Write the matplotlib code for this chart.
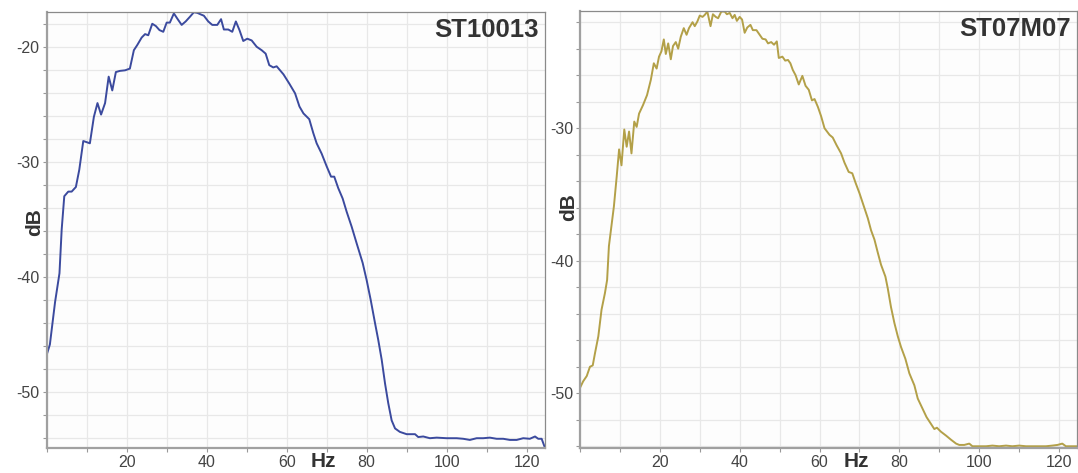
import matplotlib.pyplot as plt
from matplotlib.ticker import MultipleLocator

plt.rcParams["font.family"] = ["Liberation Sans", "DejaVu Sans"]
plt.rcParams["axes.unicode_minus"] = False

# spectrum of station ST10013
hz_a = [0, 0.8, 2.1, 3.2, 3.75, 4.4, 5.4, 6.25, 7.3, 8.15, 9.15, 10, 10.8, 11.8,
        12.7, 13.6, 14.6, 15.5, 16.4, 17.3, 18.3, 19.6, 20.8, 21.8, 22.65, 23.75,
        24.6, 25.4, 26.4, 27.3, 28.2, 29.15, 30, 30.8, 31.8, 32.75, 33.75, 34.75,
        35.8, 36.8, 37.65, 38.6, 39.3, 40.4, 41.4, 42.65, 43.6, 44.3, 45.4, 46.4,
        47.3, 48.2, 49.15, 50.15, 51.25, 52.5, 53.75, 54.75, 55.65, 56.65, 57.5,
        59.2, 60.65, 62.1, 63.2, 64.2, 65.65, 66.65, 67.5, 68.75, 70, 71.1, 71.9,
        72.9, 74, 75, 76.25, 77.5, 79, 80, 81, 82.1, 82.9, 83.75, 84.6, 85.4,
        86.25, 87.1, 88.3, 90, 92.1, 92.9, 94.15, 95.8, 97.5, 100, 102.5, 104.15,
        105.8, 107.5, 109.15, 110.8, 112.5, 114.15, 115.8, 117.5, 119.15, 120.8,
        122.1, 122.9, 123.75, 124.6]
db_a = [-46.8, -45.9, -42.2, -39.7, -35.9, -33.0, -32.6, -32.6, -32.2, -30.7,
        -28.2, -28.3, -28.4, -26.1, -24.9, -25.9, -24.9, -22.6, -23.8, -22.2,
        -22.1, -22.05, -21.9, -20.3, -19.85, -19.2, -18.9, -19.0, -18.0, -18.2,
        -18.55, -18.7, -17.9, -17.9, -17.1, -17.6, -18.1, -17.8, -17.4, -17.0,
        -17.05, -17.2, -17.3, -17.8, -18.1, -18.1, -17.6, -18.5, -18.5, -18.7,
        -17.8, -18.55, -19.5, -19.3, -19.45, -20.0, -20.3, -20.6, -21.6, -21.8,
        -21.7, -22.4, -23.2, -24.05, -25.2, -25.8, -26.3, -27.5, -28.4, -29.3,
        -30.4, -31.3, -31.3, -32.3, -33.2, -34.35, -35.65, -37.1, -38.8, -40.3,
        -42.0, -44.05, -45.5, -47.2, -49.3, -51.0, -52.5, -53.2, -53.5, -53.7,
        -53.7, -53.95, -53.9, -54.05, -54.0, -54.05, -54.05, -54.1, -54.2,
        -54.05, -54.05, -54.0, -54.1, -54.1, -54.2, -54.2, -54.05, -54.1, -53.9,
        -54.1, -54.1, -54.9]

# spectrum of station ST07M07
hz_b = [0, 0.8, 1.7, 2.5, 3.2, 3.75, 4.6, 5.4, 6.25, 6.8, 7.25, 7.75, 8.5, 9.2,
        9.8, 10.4, 11.1, 11.7, 12.3, 12.9, 13.6, 14.2, 14.8, 15.8, 16.8, 17.75,
        18.5, 19.2, 19.8, 20.4, 21, 21.5, 22.1, 22.75, 23.3, 24, 24.6, 25.25, 26,
        26.7, 27.3, 28.2, 28.75, 29.4, 30, 30.7, 31.25, 31.9, 32.7, 33.3, 34,
        34.6, 35.4, 36.25, 36.8, 37.5, 38.2, 38.75, 39.3, 40, 40.6, 41.25, 41.9,
        42.7, 43.3, 44.2, 45, 45.7, 46.5, 47.1, 47.9, 48.6, 49.3, 49.8, 50.7,
        51.4, 52.1, 52.7, 53.3, 54, 54.8, 55.7, 56.5, 57.3, 58.1, 58.75, 59.6,
        60.4, 61.25, 62.5, 63.3, 64.3, 65.4, 66.25, 67.3, 68.2, 69, 70, 71, 72.1,
        72.9, 73.75, 74.6, 75.4, 76.5, 77.1, 77.9, 78.75, 79.6, 80.4, 81.5, 82.5,
        83.75, 84.6, 85.7, 86.8, 87.9, 88.75, 89.4, 90.4, 91.7, 92.9, 94.2, 95,
        96.25, 97.5, 98.3, 100, 101.7, 103.3, 105, 106.7, 108.3, 110, 111.7,
        113.3, 115, 116.7, 118.3, 119.6, 120.8, 121.7, 122.9, 124.5]
db_b = [-49.6, -49.1, -48.7, -48.0, -47.9, -47.0, -45.7, -43.7, -42.45, -41.45,
        -38.9, -37.7, -35.9, -33.65, -31.6, -32.8, -30.1, -31.4, -30.25, -31.9,
        -29.5, -29.9, -28.9, -28.25, -27.5, -26.35, -25.1, -25.5, -24.6, -24.2,
        -23.3, -24.4, -23.6, -24.8, -23.8, -23.5, -24.0, -23.1, -22.45, -22.95,
        -22.45, -22.0, -22.3, -21.95, -21.5, -21.6, -21.45, -21.2, -22.3, -21.4,
        -21.6, -21.7, -21.2, -21.2, -21.4, -21.3, -21.7, -21.45, -21.9, -21.6,
        -21.8, -22.8, -22.4, -22.2, -22.6, -22.6, -22.95, -23.25, -23.3, -23.6,
        -23.5, -23.7, -23.45, -24.7, -24.6, -24.9, -24.85, -25.1, -25.6, -26.0,
        -26.7, -26.05, -26.8, -27.1, -27.9, -27.8, -28.4, -29.1, -30.0, -30.5,
        -30.7, -31.3, -31.9, -32.6, -33.3, -33.4, -34.1, -34.9, -35.8, -36.8,
        -37.7, -38.4, -39.4, -40.3, -41.2, -42.1, -43.5, -44.7, -45.7, -46.5,
        -47.4, -48.5, -49.4, -50.4, -51.1, -51.8, -52.3, -52.7, -52.6, -52.9,
        -53.2, -53.5, -53.8, -53.9, -53.9, -53.8, -54.0, -54.0, -54.0, -53.95,
        -54.0, -53.95, -54.0, -53.95, -54.0, -54.0, -54.0, -54.0, -53.95, -53.9,
        -53.8, -54.0, -54.0, -54.0]

panels = [
    ("ST10013", hz_a, db_a, "#3b4a9e", (-54.9, -16.95), [-50, -40, -30, -20]),
    ("ST07M07", hz_b, db_b, "#b3a048", (-54.13, -21.15), [-50, -40, -30]),
]
rects = [[0.0433, 0.0529, 0.4623, 0.9224], [0.538, 0.0529, 0.4615, 0.9240]]

fig = plt.figure(figsize=(10.78, 4.73), dpi=100)

for (name, hz, db, color, ylim, yticks), rect in zip(panels, rects):
    ax = fig.add_axes(rect)
    ax.set_facecolor("#fdfdfd")
    ax.plot(hz, db, color=color, linewidth=1.4)
    ax.set_xlim(0, 124.6)
    ax.set_ylim(*ylim)

    ax.set_xticks([20, 40, 60, 80, 100, 120])
    ax.set_yticks(yticks)
    ax.xaxis.set_minor_locator(MultipleLocator(10))
    ax.yaxis.set_minor_locator(MultipleLocator(2))
    ax.grid(True, which="both", color="#e8e8e8", linewidth=0.9)
    ax.set_axisbelow(True)
    ax.tick_params(which="both", labelsize=11.5, labelcolor="#444444",
                   color="#999999", length=3, width=0.8, pad=2)

    for side in ("left", "bottom"):
        ax.spines[side].set_color("#a0a0a0")
        ax.spines[side].set_linewidth(1.6)
    for side in ("top", "right"):
        ax.spines[side].set_color("#8a8a8a")
        ax.spines[side].set_linewidth(0.9)

    ax.text(0.987, 0.985, name, transform=ax.transAxes, ha="right", va="top",
            fontsize=18.5, fontweight="bold", color="#333333")
    ax.text(69.3, -0.03, "Hz", transform=ax.get_xaxis_transform(),
            ha="center", va="center", fontsize=15, fontweight="bold",
            color="#333333")

fig.text(34.7 / 1078, 1 - 222 / 473, "dB", rotation=90, ha="center",
         va="center", fontsize=15, fontweight="bold", color="#333333")
fig.text(569 / 1078, 1 - 207.5 / 473, "dB", rotation=90, ha="center",
         va="center", fontsize=15, fontweight="bold", color="#333333")

fig.savefig("out.png", dpi=100)
